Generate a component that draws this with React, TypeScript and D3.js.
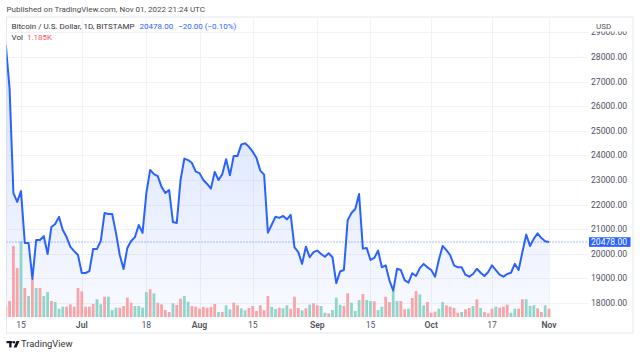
import React from 'react';
import * as d3 from 'd3';

// ---- Data (daily closes, BTC/USD Bitstamp, Jun 11 – Nov 1 2022) ----
const startDay = '2022-06-11';
const closes = [
  28490, 26700, 22470, 22110, 22550, 20440, 20440, 18980, 20560, 20560,
  20720, 19990, 21090, 21210, 21500, 20970, 20680, 20280, 20110, 19950,
  19220, 19220, 19300, 20200, 20200, 20520, 21660, 21620, 21620, 20850,
  19950, 19380, 20240, 20520, 20680, 21170, 20850, 22470, 23410, 23240,
  23160, 22720, 22470, 22590, 21290, 21250, 23000, 23870, 23810, 23690,
  23340, 23280, 23000, 22840, 22650, 23330, 23000, 23240, 23840, 23190,
  23980, 23980, 24440, 24490, 24350, 24150, 23890, 23380, 23220, 20860,
  21180, 21510, 21460, 21540, 21400, 21580, 20260, 20070, 19590, 20290,
  19860, 20070, 20130, 19990, 19880, 20020, 19860, 18810, 19280, 19340,
  21370, 21660, 21820, 22430, 20210, 20240, 19750, 19830, 20130, 19450,
  19530, 18910, 18500, 19390, 19340, 18930, 18830, 19210, 19100, 19420,
  19590, 19450, 19340, 19070, 19750, 20320, 20150, 19940, 19530, 19450,
  19450, 19150, 19070, 19180, 19390, 19230, 19100, 19260, 19530, 19340,
  19150, 19070, 19180, 19230, 19590, 19340, 20070, 20780, 20320, 20610,
  20830, 20640, 20510, 20478,
];
// volume in thousands
const volumes = [
  1.47, 2.28, 10.14, 7.0, 10.81, 4.14, 3.0, 5.38, 4.14, 4.14,
  3.0, 3.57, 2.28, 2.14, 1.19, 1.47, 1.47, 1.81, 1.47, 4.14,
  3.67, 1.47, 1.47, 1.86, 2.53, 1.81, 2.9, 2.9, 1.0, 1.33,
  1.33, 1.57, 2.76, 2.04, 1.57, 1.57, 1.33, 3.57, 3.96, 3.38,
  2.04, 1.81, 1.0, 0.71, 1.96, 1.71, 2.61, 3.0, 2.18, 1.57,
  1.47, 1.19, 1.43, 1.33, 1.43, 1.86, 0.71, 0.71, 1.67, 1.1,
  2.04, 1.67, 1.24, 0.96, 1.29, 1.57, 0.86, 1.67, 0.96, 3.0,
  1.43, 1.14, 1.33, 1.24, 1.67, 1.19, 2.9, 1.29, 0.96, 1.24,
  1.76, 1.96, 1.67, 1.57, 0.61, 0.53, 1.0, 2.76, 1.76, 1.57,
  3.38, 2.04, 0.86, 2.43, 3.28, 2.43, 2.28, 2.24, 1.0, 1.47,
  2.9, 2.14, 3.76, 2.28, 2.28, 1.1, 1.19, 2.71, 3.71, 3.24,
  1.67, 2.14, 0.61, 0.76, 1.19, 2.14, 1.67, 1.47, 1.29, 0.61,
  0.71, 1.1, 1.29, 1.57, 2.53, 1.29, 0.71, 0.53, 1.19, 1.47,
  1.33, 1.47, 1.76, 0.61, 1.19, 1.19, 2.53, 2.53, 1.57, 1.67,
  1.24, 0.71, 1.67, 1.185,
];
// u = up (teal), d = down (red)
const volumeDirs =
  'ddddudududuuduuudddddddduuduuuddddu' +
  'uuududdddudduuddddddduduudduuddddddu' +
  'uduudddududduuduuudduuuduuduudduuddu' +
  'dduuddduudddduddududdduddduudduuudduddd';
const priceTicks = [18000, 19000, 20000, 21000, 22000, 23000, 24000, 25000, 26000, 27000, 28000, 29000];
const timeTickDates = ['2022-06-15', '2022-07-01', '2022-07-18', '2022-08-01', '2022-08-15', '2022-09-01', '2022-09-15', '2022-10-01', '2022-10-17', '2022-11-01'];
const timeTickLabels = ['15', 'Jul', '18', 'Aug', '15', 'Sep', '15', 'Oct', '17', 'Nov'];
const lastPrice = 20478;

const FONT = 'Roboto, "Open Sans", sans-serif';

export default function App() {
  const parse = d3.utcParse('%Y-%m-%d');
  const d0 = parse(startDay)!;
  const data = closes.map((c, i) => ({
    date: d3.utcDay.offset(d0, i),
    close: c,
    vol: volumes[i],
    up: volumeDirs[i] === 'u',
  }));

  const left = 6.5, right = 588, top = 17, plotBottom = 318, frameRight = 633, frameBottom = 333;

  const x = d3.scaleUtc()
    .domain([parse('2022-06-15')!, parse('2022-11-01')!])
    .range([21, 549]);
  const y = d3.scaleLinear().domain([18000, 28000]).range([303, 57]);
  const v = d3.scaleLinear().domain([0, d3.max(volumes)!]).range([317, 241.3]);

  const line = d3.line<any>().x(d => x(d.date)).y(d => y(d.close)).curve(d3.curveLinear);
  const area = d3.area<any>().x(d => x(d.date)).y0(plotBottom).y1(d => y(d.close));

  const barW = 2.8;

  return (
    <svg width={640} height={356} style={{ position: 'absolute', left: 0, top: 0, background: '#fff' }}
      fontFamily={FONT}>
      <defs>
        <clipPath id="plot">
          <rect x={left} y={top} width={right - left} height={plotBottom - top} />
        </clipPath>
        <clipPath id="axis">
          <rect x={right} y={31.5} width={frameRight - right} height={plotBottom - 31.5} />
        </clipPath>
        <linearGradient id="fill" gradientUnits="userSpaceOnUse" x1={0} y1={40} x2={0} y2={plotBottom}>
          <stop offset="0%" stopColor="rgb(41,98,255)" stopOpacity={0.2} />
          <stop offset="100%" stopColor="rgb(41,98,255)" stopOpacity={0.03} />
        </linearGradient>
      </defs>
      <rect x={0} y={0} width={640} height={356} fill="#fff" />

      {/* header */}
      <text x={6.5} y={12} fontSize={8} fill="#4a4a4a">Published on TradingView.com, Nov 01, 2022 21:24 UTC</text>

      {/* frame */}
      <rect x={left} y={top} width={frameRight - left} height={frameBottom - top} fill="none" stroke="#e6e8ee" strokeWidth={1} />

      {/* grid */}
      <g stroke="#f0f2f7" strokeWidth={1}>
        {priceTicks.map(t => (
          <line key={t} x1={left} x2={right} y1={Math.round(y(t)) + 0.5} y2={Math.round(y(t)) + 0.5} />
        ))}
        {timeTickDates.map(s => {
          const xx = Math.round(x(parse(s)!)) + 0.5;
          return <line key={s} x1={xx} x2={xx} y1={top} y2={plotBottom} />;
        })}
      </g>

      <g clipPath="url(#plot)">
        <path d={area(data)!} fill="url(#fill)" />
        {data.map((d, i) => (
          <rect key={i} x={x(d.date) - barW / 2} y={v(d.vol)} width={barW} height={317 - v(d.vol)}
            fill={d.up ? 'rgb(144,213,201)' : 'rgb(249,164,168)'} />
        ))}
        <line x1={left} x2={right} y1={y(lastPrice)} y2={y(lastPrice)} stroke="#2962ff" strokeWidth={1} strokeDasharray="1,2" opacity={0.8} />
        <path d={line(data)!} fill="none" stroke="#2962ff" strokeWidth={2} strokeLinejoin="round" />
      </g>

      {/* legend */}
      <text x={11.5} y={28.5} fontSize={8} fill="#333">
        Bitcoin / U.S. Dollar, 1D, BITSTAMP
        <tspan fill="#2962ff" dx={5}>20478.00</tspan>
        <tspan fill="#2962ff" dx={5}>−20.00 (−0.10%)</tspan>
      </text>
      <text x={11.5} y={39.5} fontSize={8} fill="#333">
        Vol<tspan fill="#f7525f" dx={4}>1.185K</tspan>
      </text>

      {/* y axis */}
      <g clipPath="url(#axis)">
        {priceTicks.map(t => (
          <text key={t} x={591} y={y(t)} dy="0.35em" fontSize={8.6} fill="#50535e">{t.toFixed(2)}</text>
        ))}
      </g>
      <text x={596} y={25.7} dy="0.35em" fontSize={8} fill="#50535e">USD</text>
      <rect x={589} y={y(lastPrice) - 4.8} width={41.5} height={9.6} fill="#2962ff" />
      <text x={591} y={y(lastPrice)} dy="0.35em" fontSize={8.6} fill="#fff">{lastPrice.toFixed(2)}</text>

      {/* x axis */}
      {timeTickDates.map((s, i) => (
        <text key={s} x={x(parse(s)!)} y={325} dy="0.35em" textAnchor="middle" fontSize={8.6}
          fill="#50535e" fontWeight={timeTickLabels[i].length === 3 ? 600 : 400}>{timeTickLabels[i]}</text>
      ))}

      {/* logo */}
      <g fill="#131722">
        <rect x={6.5} y={341} width={6} height={2.2} />
        <rect x={9.2} y={341} width={2.3} height={6.5} />
        <circle cx={14} cy={342.2} r={1.2} />
        <path d="M16.5,341 L19.5,341 L16.6,347.5 L13.6,347.5 Z" />
      </g>
      <text x={21} y={347.3} fontSize={9.4} fill="#333">TradingView</text>
    </svg>
  );
}
